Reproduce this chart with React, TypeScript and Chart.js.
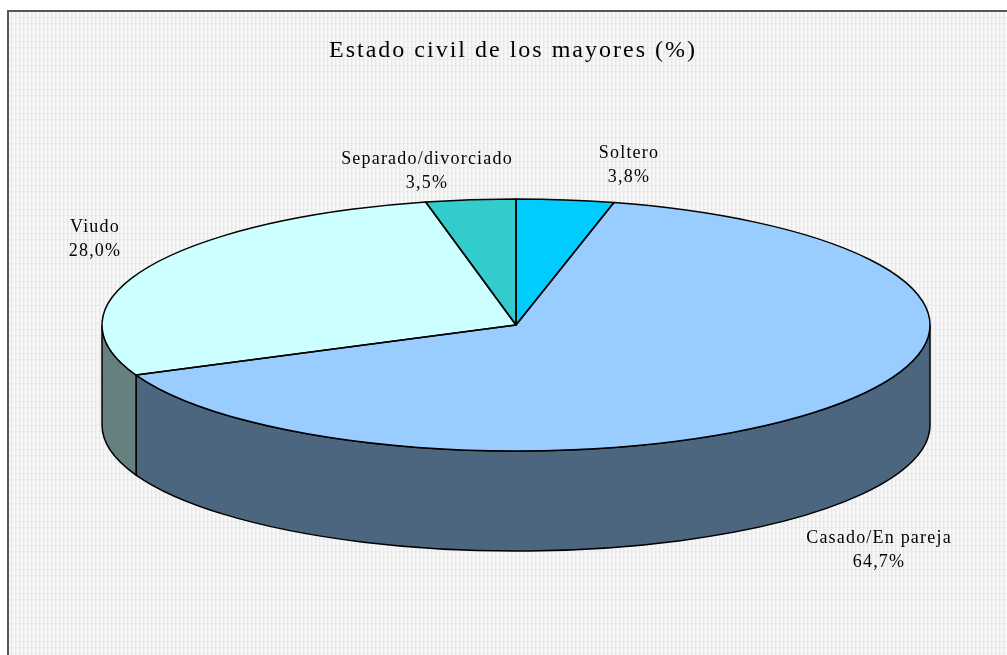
import { useEffect, useRef } from "react";
import { Chart, registerables } from "chart.js";

Chart.register(...registerables);

const TITLE = "Estado civil de los mayores (%)";
const categories = ["Soltero", "Casado/En pareja", "Viudo", "Separado/divorciado"];
const values = [3.8, 64.7, 28.0, 3.5];
const topColors = ["#00CCFF", "#99CCFF", "#CCFFFF", "#33CCCC"];
const sideColors = ["#006680", "#4D6680", "#668080", "#1A6666"];
const FONT = '"Liberation Serif", "Times New Roman", serif';

// Layout of the drawing (not data)
const PIE = { cx: 516, cy: 325, rx: 414, ry: 126, depth: 100 };
const LABEL_CENTERS = [
  [629, 153],
  [879, 538],
  [95, 227],
  [427, 159],
];
const LINE_GAP = 24;

function makeTile() {
  const c = document.createElement("canvas");
  c.width = 4;
  c.height = 6;
  const g = c.getContext("2d")!;
  g.fillStyle = "#f8f8f8";
  g.fillRect(0, 0, 4, 6);
  g.fillStyle = "#e8e8e8";
  g.fillRect(3, 0, 1, 6);
  g.fillStyle = "#f1f1f1";
  g.fillRect(0, 0, 1, 6);
  g.fillStyle = "#eeeeee";
  g.fillRect(0, 5, 3, 1);
  return c;
}

const pie3d = {
  id: "pie3d",
  beforeDraw(chart: any) {
    const { ctx } = chart;
    ctx.save();
    ctx.fillStyle = "#ffffff";
    ctx.fillRect(0, 0, chart.width, chart.height);
    ctx.fillStyle = ctx.createPattern(makeTile(), "repeat");
    ctx.fillRect(8, 11, chart.width - 8, chart.height - 11);
    ctx.strokeStyle = "#555555";
    ctx.lineWidth = 2;
    ctx.beginPath();
    ctx.moveTo(8, chart.height);
    ctx.lineTo(8, 11);
    ctx.lineTo(chart.width, 11);
    ctx.stroke();
    ctx.restore();
    ctx.letterSpacing = "2px";
  },
  beforeDatasetsDraw(chart: any) {
    const { ctx } = chart;
    const { cx, cy, rx, ry, depth } = PIE;
    const arcs = chart.getDatasetMeta(0).data;
    ctx.save();
    ctx.strokeStyle = "#000000";
    ctx.lineWidth = 1.5;
    arcs.forEach((arc: any, i: number) => {
      const turn = Math.PI * 2;
      let a0 = arc.startAngle;
      let a1 = arc.endAngle;
      while (a0 < -Math.PI / 2) {
        a0 += turn;
        a1 += turn;
      }
      const s = Math.max(a0, 0);
      const e = Math.min(a1, Math.PI);
      if (e <= s) return;
      ctx.beginPath();
      ctx.ellipse(cx, cy, rx, ry, 0, s, e);
      ctx.lineTo(cx + rx * Math.cos(e), cy + ry * Math.sin(e) + depth);
      ctx.ellipse(cx, cy + depth, rx, ry, 0, e, s, true);
      ctx.closePath();
      ctx.fillStyle = sideColors[i];
      ctx.fill();
      ctx.stroke();
    });
    ctx.restore();
  },
  beforeDatasetDraw(chart: any) {
    const { ctx } = chart;
    const arc = chart.getDatasetMeta(0).data[0];
    const { cx, cy, rx, ry } = PIE;
    const r = arc.outerRadius;
    ctx.save();
    ctx.translate(cx, cy);
    ctx.scale(rx / r, ry / r);
    ctx.translate(-arc.x, -arc.y);
  },
  afterDatasetDraw(chart: any) {
    const { ctx } = chart;
    ctx.restore();
    const { cx, cy, rx, ry } = PIE;
    ctx.save();
    ctx.strokeStyle = "#000000";
    ctx.lineWidth = 1.5;
    ctx.lineJoin = "round";
    chart.getDatasetMeta(0).data.forEach((arc: any) => {
      ctx.beginPath();
      ctx.moveTo(cx, cy);
      ctx.ellipse(cx, cy, rx, ry, 0, arc.startAngle, arc.endAngle);
      ctx.closePath();
      ctx.stroke();
    });
    ctx.restore();
  },
  afterDraw(chart: any) {
    const { ctx } = chart;
    ctx.save();
    ctx.font = `18px ${FONT}`;
    ctx.letterSpacing = "1.2px";
    ctx.fillStyle = "#000000";
    ctx.textAlign = "center";
    ctx.textBaseline = "middle";
    categories.forEach((name, i) => {
      const [x, y] = LABEL_CENTERS[i];
      ctx.fillText(name, x, y);
      ctx.fillText(values[i].toFixed(1).replace(".", ",") + "%", x, y + LINE_GAP);
    });
    ctx.restore();
    ctx.letterSpacing = "0px";
  },
};

export default function App() {
  const ref = useRef<HTMLCanvasElement>(null);
  useEffect(() => {
    document.body.style.margin = "0";
    const chart = new Chart(ref.current!, {
      type: "doughnut",
      data: {
        labels: categories,
        datasets: [
          {
            data: values,
            backgroundColor: topColors,
            borderWidth: 0,
          },
        ],
      },
      options: {
        animation: false,
        responsive: false,
        devicePixelRatio: 1,
        cutout: 0,
        rotation: 0,
        layout: { padding: { left: 19, right: 0, top: 0, bottom: 60 } },
        plugins: {
          legend: { display: false },
          tooltip: { enabled: false },
          title: {
            display: true,
            text: TITLE,
            color: "#000000",
            font: { family: FONT, size: 24, weight: "normal" },
            padding: { top: 36, bottom: 10 },
          },
        },
      },
      plugins: [pie3d],
    } as any);
    return () => chart.destroy();
  }, []);
  return <canvas ref={ref} width={1007} height={655} style={{ display: "block" }} />;
}
